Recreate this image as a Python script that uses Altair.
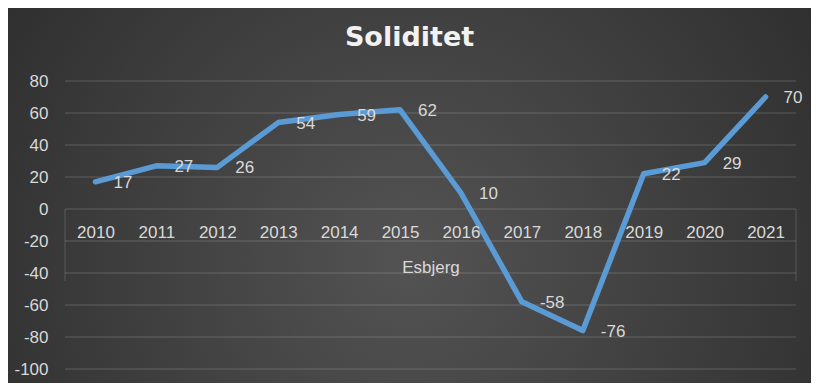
import altair as alt
import pandas as pd

years = ["2010", "2011", "2012", "2013", "2014", "2015", "2016", "2017", "2018", "2019", "2020", "2021"]
values = [17, 27, 26, 54, 59, 62, 10, -58, -76, 22, 29, 70]
y_ticks = [-100, -80, -60, -40, -20, 0, 20, 40, 60, 80]
chart_title = "Soliditet"
x_title = "Esbjerg"

df = pd.DataFrame({"year": years, "value": values})
df["label"] = [str(v) for v in values]
grid_df = pd.DataFrame({"value": y_ticks})
one = pd.DataFrame({"a": [0]})

W, H = 731, 288
LABEL = "#d9d9d9"
FONT = "Liberation Sans"

yscale = alt.Scale(domain=[-100, 80], nice=False, zero=False)
xscale = alt.Scale(type="point", padding=0.5)

gradient = alt.Gradient(
    gradient="radial",
    x1=0.5, y1=0.58, r1=0,
    x2=0.5, y2=0.58, r2=0.75,
    stops=[alt.GradientStop(color="#535353", offset=0),
           alt.GradientStop(color="#262626", offset=1)],
)

yaxis = alt.Axis(values=y_ticks, domain=False, ticks=False, tickSize=0, grid=False,
                 labelPadding=17, labelColor=LABEL, labelFont=FONT, labelFontSize=17,
                 labelOverlap=False, labelBound=False,
                 labelExpr="toString(datum.value)", title=None, zindex=1)

bg = alt.Chart(one).mark_rect(fill=gradient, stroke=None).encode(
    x=alt.value(-57), x2=alt.value(W + 15), y=alt.value(-73), y2=alt.value(H + 14)
)

grid = alt.Chart(grid_df).mark_rule(color="white", strokeOpacity=0.13, strokeWidth=1.3).encode(
    y=alt.Y("value:Q", scale=yscale, axis=yaxis),
    x=alt.value(0), x2=alt.value(W),
)

edge_l = alt.Chart(one).mark_rule(color="white", strokeOpacity=0.13, strokeWidth=1.3).encode(
    x=alt.value(0), y=alt.Y("t:Q", scale=yscale, axis=yaxis), y2="b:Q"
).transform_calculate(t="0", b="-45")
edge_r = alt.Chart(one).mark_rule(color="white", strokeOpacity=0.13, strokeWidth=1.3).encode(
    x=alt.value(W), y=alt.Y("t:Q", scale=yscale, axis=yaxis), y2="b:Q"
).transform_calculate(t="0", b="-45")

base = alt.Chart(df).encode(
    x=alt.X("year:O", scale=xscale, sort=years,
            axis=alt.Axis(orient="bottom", offset=-160, domain=False, ticks=False, tickSize=0,
                          labelAngle=0, labelPadding=15, labelColor=LABEL, labelFont=FONT,
                          labelFontSize=17, labelOverlap=False,
                          title=x_title, titleColor=LABEL, titleFont=FONT,
                          titleFontSize=17, titleFontWeight="normal", titlePadding=19,
                          grid=False, zindex=1)),
    y=alt.Y("value:Q", scale=yscale, axis=yaxis),
)

line = base.mark_line(color="#5b9bd5", strokeWidth=5.5, strokeCap="round", strokeJoin="round")
labels = base.mark_text(align="left", baseline="middle", dx=18, dy=1, font=FONT,
                        fontSize=17, color=LABEL).encode(text=alt.Text("label:N"))

chart = alt.layer(bg, grid, edge_l, edge_r, line, labels).properties(
    width=W, height=H,
    autosize=alt.AutoSizeParams(type="none"),
    padding={"left": 57, "top": 73, "right": 15, "bottom": 14},
    background="#2a2a2a",
    title=alt.TitleParams(chart_title, font="DejaVu Sans", fontSize=27, fontWeight="bold",
                          color="#f2f2f2", anchor="middle", dx=-21, offset=-44),
).configure_view(stroke=None).configure_axis(labelOverlap=False)

chart.save("out.html", embed_options={"renderer": "svg", "actions": False})
